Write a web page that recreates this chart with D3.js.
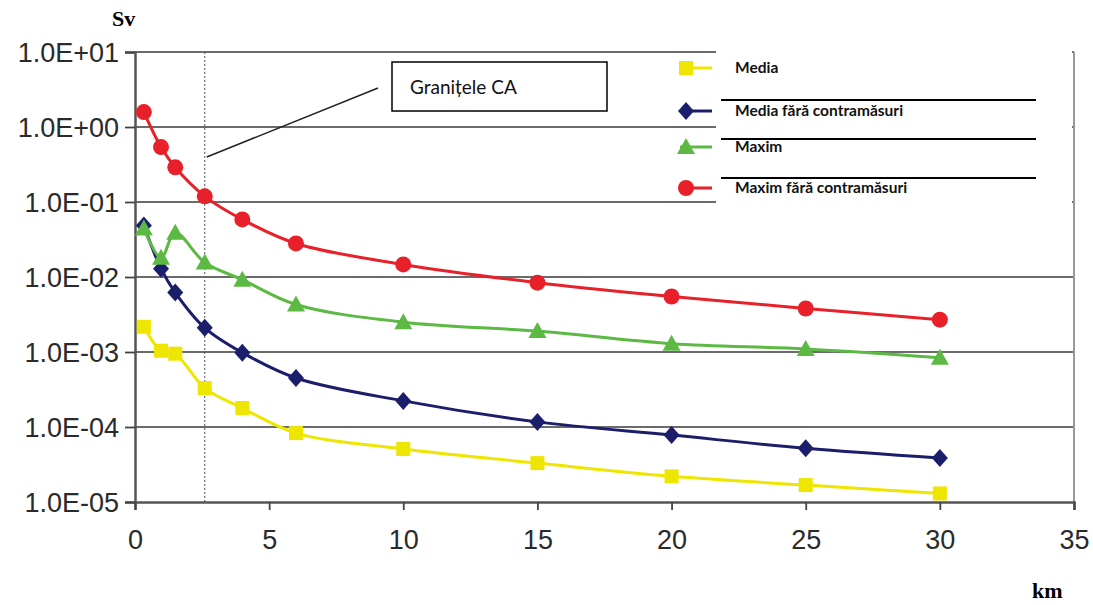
<!DOCTYPE html>
<html>
<head>
<meta charset="utf-8">
<script src="https://d3js.org/d3.v7.min.js"></script>
<style>
  body { margin: 0; background: #fff; }
  svg { display: block; }
  .tick text { font-family: "Liberation Sans", Arial, sans-serif; font-size: 27px; fill: #2a2a2a; }
  .legend text { font-family: Lato, "Open Sans", sans-serif; font-weight: bold; font-size: 15.5px; fill: #111; }
</style>
</head>
<body>
<script>
// distances (km)
var km = [0.33, 0.97, 1.5, 2.6, 4, 6, 10, 15, 20, 25, 30];

var media      = [0.00217, 0.00104, 0.00095, 0.00033, 0.000179, 0.000083, 0.000051, 0.000033, 0.000022, 0.0000168, 0.000013];
var mediaFara  = [0.0486, 0.0129, 0.0062, 0.0021, 0.00098, 0.00045, 0.000223, 0.000117, 0.000078, 0.000052, 0.0000385];
var maxim      = [0.0444, 0.018, 0.039, 0.0156, 0.0092, 0.0043, 0.0025, 0.0019, 0.00129, 0.0011, 0.00084];
var maximFara  = [1.58, 0.54, 0.29, 0.119, 0.0585, 0.028, 0.0147, 0.0084, 0.0055, 0.0038, 0.0027];

var seriesNames = ["Media", "Media fără contramăsuri", "Maxim", "Maxim fără contramăsuri"];
var seriesColors = ["#eee600", "#1b1f6b", "#5cb944", "#e8202a"];
var seriesShapes = ["square", "diamond", "triangle", "circle"];

var xTicks = [0, 5, 10, 15, 20, 25, 30, 35];
var yTicks = [10, 1, 0.1, 0.01, 0.001, 0.0001, 0.00001];
var yTickLabels = ["1.0E+01", "1.0E+00", "1.0E-01", "1.0E-02", "1.0E-03", "1.0E-04", "1.0E-05"];

var borderKm = 2.6;   // Granitele CA

var W = 1093, H = 605;
var svg = d3.select("body").append("svg").attr("width", W).attr("height", H);

var x = d3.scaleLinear().domain([0, 35]).range([135, 1074]);
var y = d3.scaleLog().domain([1e-5, 10]).range([502, 52]);

// gridlines
svg.append("g").selectAll("line").data(yTicks.slice(0, -1)).enter().append("line")
  .attr("x1", x(0)).attr("x2", x(35))
  .attr("y1", function(d){ return y(d); }).attr("y2", function(d){ return y(d); })
  .attr("stroke", "#3a3a3a").attr("stroke-width", 1.6);

// right frame
svg.append("line").attr("x1", x(35)).attr("x2", x(35)).attr("y1", y(10)).attr("y2", y(1e-5))
  .attr("stroke", "#999").attr("stroke-width", 2);

// axes
var yAxis = svg.append("g").attr("transform", "translate(" + x(0) + ",0)")
  .call(d3.axisLeft(y).tickValues(yTicks).tickFormat(function(d, i){ return yTickLabels[i]; }).tickSize(10).tickPadding(6));
var xAxis = svg.append("g").attr("transform", "translate(0," + y(1e-5) + ")")
  .call(d3.axisBottom(x).tickValues(xTicks).tickSize(8).tickPadding(20));
[xAxis, yAxis].forEach(function(a){
  a.select(".domain").attr("stroke", "#555").attr("stroke-width", 2.5);
  a.selectAll(".tick line").attr("stroke", "#444").attr("stroke-width", 1.8);
});
yAxis.selectAll(".tick text").attr("dy", "0.36em");

// dotted border line
svg.append("line").attr("x1", x(borderKm)).attr("x2", x(borderKm)).attr("y1", y(10)).attr("y2", y(1e-5))
  .attr("stroke", "#555").attr("stroke-width", 1).attr("stroke-dasharray", "2,2");

// series
var allData = [media, mediaFara, maxim, maximFara];
var line = d3.line().x(function(d){ return x(d[0]); }).y(function(d){ return y(d[1]); })
  .curve(d3.curveCatmullRom.alpha(0.5));

function marker(g, shape, color, cx, cy) {
  if (shape === "square") {
    g.append("rect").attr("x", cx - 7).attr("y", cy - 7).attr("width", 14).attr("height", 14).attr("fill", color);
  } else if (shape === "diamond") {
    g.append("path").attr("d", "M" + cx + "," + (cy - 9) + "L" + (cx + 8) + "," + cy + "L" + cx + "," + (cy + 9) + "L" + (cx - 8) + "," + cy + "Z").attr("fill", color);
  } else if (shape === "triangle") {
    g.append("path").attr("d", "M" + cx + "," + (cy - 9) + "L" + (cx + 9) + "," + (cy + 7) + "L" + (cx - 9) + "," + (cy + 7) + "Z").attr("fill", color);
  } else {
    g.append("circle").attr("cx", cx).attr("cy", cy).attr("r", 8).attr("fill", color);
  }
}

allData.forEach(function(vals, i){
  var pts = km.map(function(k, j){ return [k, vals[j]]; });
  var g = svg.append("g");
  g.append("path").attr("d", line(pts)).attr("fill", "none")
    .attr("stroke", seriesColors[i]).attr("stroke-width", 3);
  pts.forEach(function(p){ marker(g, seriesShapes[i], seriesColors[i], x(p[0]), y(p[1])); });
});

// legend box
var lg = svg.append("g").attr("class", "legend");
lg.append("rect").attr("x", 716).attr("y", 47).attr("width", 356).attr("height", 168).attr("fill", "#fff");
var legY = [68, 111, 147, 188];
seriesNames.forEach(function(n, i){
  lg.append("line").attr("x1", 680).attr("x2", 712).attr("y1", legY[i]).attr("y2", legY[i])
    .attr("stroke", seriesColors[i]).attr("stroke-width", 3);
  marker(lg, seriesShapes[i], seriesColors[i], 686, legY[i]);
  lg.append("text").attr("x", 735).attr("y", legY[i] + 5).text(n);
});
[100, 139, 178].forEach(function(yy){
  lg.append("line").attr("x1", 721).attr("x2", 1036).attr("y1", yy).attr("y2", yy)
    .attr("stroke", "#000").attr("stroke-width", 2);
});

// annotation
svg.append("line").attr("x1", x(borderKm) + 2).attr("y1", 157).attr("x2", 378).attr("y2", 88)
  .attr("stroke", "#222").attr("stroke-width", 1.5);
svg.append("rect").attr("x", 392).attr("y", 62).attr("width", 215).attr("height", 49)
  .attr("fill", "#fff").attr("stroke", "#000").attr("stroke-width", 1.5);
svg.append("text").attr("x", 410).attr("y", 94).text("Granițele CA")
  .attr("font-family", "Lato, 'Open Sans', sans-serif").attr("font-size", 19).attr("fill", "#111");

// axis titles
svg.append("text").attr("x", 112).attr("y", 26).text("Sv")
  .attr("font-family", "'Liberation Serif', serif").attr("font-weight", "bold").attr("font-size", 22);
svg.append("text").attr("x", 1032).attr("y", 598).text("km")
  .attr("font-family", "'Liberation Serif', serif").attr("font-weight", "bold").attr("font-size", 22);
</script>
</body>
</html>
